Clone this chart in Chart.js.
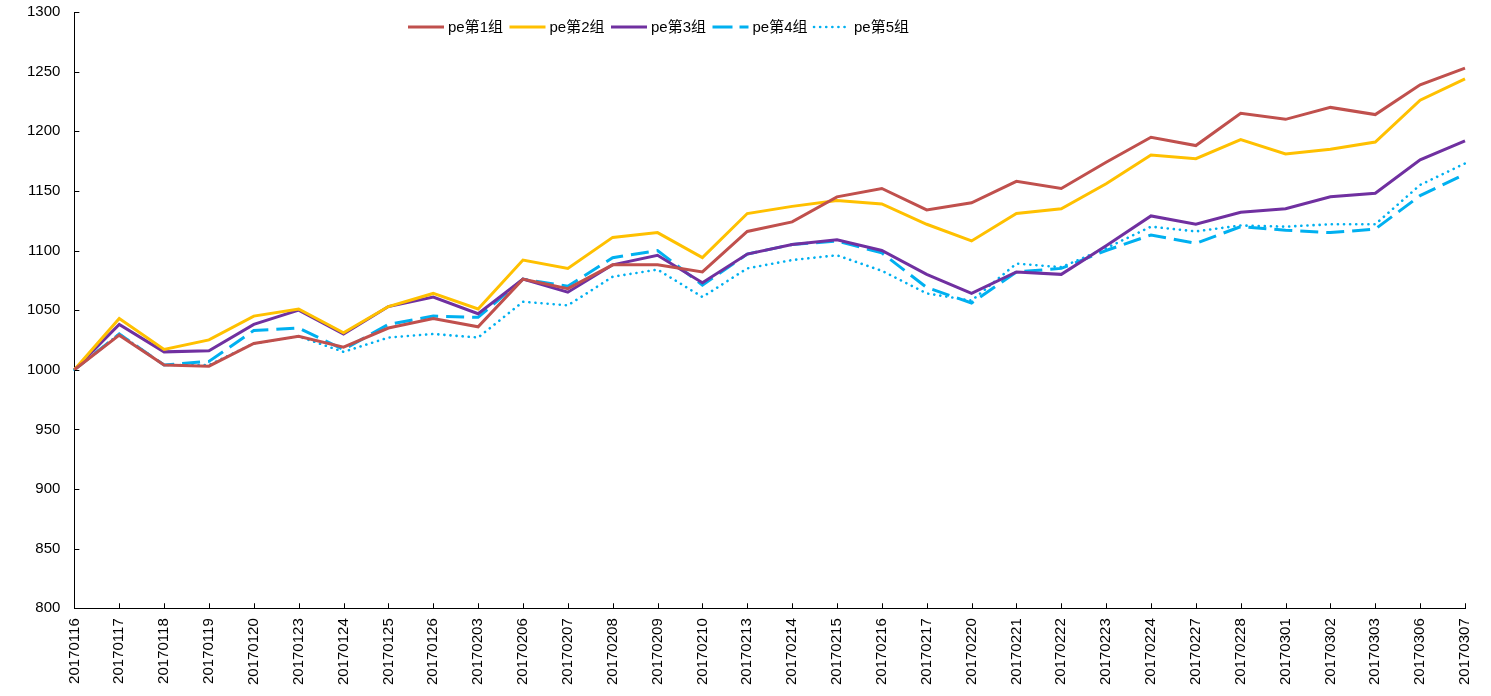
<!DOCTYPE html>
<html>
<head>
<meta charset="utf-8">
<script src="https://cdn.jsdelivr.net/npm/chart.js@4/dist/chart.umd.min.js"></script>
<style>
  html, body { margin: 0; padding: 0; background: #fff; }
  #wrap { width: 1491px; height: 696px; position: relative; }
</style>
</head>
<body>
<div id="wrap"><canvas id="grafico"></canvas></div>
<script>
const fechas = [
  "20170116", "20170117", "20170118", "20170119", "20170120", "20170123", "20170124", "20170125",
  "20170126", "20170203", "20170206", "20170207", "20170208", "20170209", "20170210", "20170213",
  "20170214", "20170215", "20170216", "20170217", "20170220", "20170221", "20170222", "20170223",
  "20170224", "20170227", "20170228", "20170301", "20170302", "20170303", "20170306", "20170307"
];

const grupo1 = [1000, 1029, 1004, 1003, 1022, 1028, 1019, 1035, 1043, 1036, 1076, 1068, 1088, 1088, 1082, 1116,
                1124, 1145, 1152, 1134, 1140, 1158, 1152, 1174, 1195, 1188, 1215, 1210, 1220, 1214, 1239, 1253];
const grupo2 = [1000, 1043, 1017, 1025, 1045, 1051, 1031, 1053, 1064, 1051, 1092, 1085, 1111, 1115, 1094, 1131,
                1137, 1142, 1139, 1122, 1108, 1131, 1135, 1156, 1180, 1177, 1193, 1181, 1185, 1191, 1226, 1244];
const grupo3 = [1000, 1038, 1015, 1016, 1038, 1050, 1030, 1053, 1061, 1047, 1076, 1065, 1088, 1096, 1073, 1097,
                1105, 1109, 1100, 1080, 1064, 1082, 1080, 1104, 1129, 1122, 1132, 1135, 1145, 1148, 1176, 1192];
const grupo4 = [1000, 1030, 1004, 1007, 1033, 1035, 1017, 1038, 1045, 1044, 1076, 1070, 1094, 1100, 1071, 1097,
                1105, 1108, 1098, 1069, 1056, 1082, 1085, 1100, 1113, 1106, 1120, 1117, 1115, 1118, 1146, 1164];
const grupo5 = [1000, 1030, 1004, 1004, 1022, 1028, 1015, 1027, 1030, 1027, 1057, 1054, 1078, 1084, 1061, 1085,
                1092, 1096, 1083, 1064, 1058, 1089, 1086, 1102, 1120, 1116, 1121, 1120, 1122, 1122, 1155, 1173];

const etiquetas = ["pe第1组", "pe第2组", "pe第3组", "pe第4组", "pe第5组"];
const colores = ["#C0504D", "#FFC000", "#7030A0", "#00B0F0", "#00B0F0"];

const fuente = "'Liberation Sans', 'Noto Sans CJK SC', sans-serif";

// leyenda dibujada a mano dentro del area del grafico
const leyendaPlugin = {
  id: "leyenda",
  afterDraw(chart) {
    const ctx = chart.ctx;
    let x = 408;
    const y = 27;
    ctx.save();
    ctx.font = "15px " + fuente;
    ctx.textBaseline = "middle";
    chart.data.datasets.forEach(ds => {
      ctx.strokeStyle = ds.borderColor;
      ctx.lineWidth = ds.borderWidth;
      ctx.lineCap = ds.borderCapStyle || "butt";
      ctx.setLineDash(ds.leyendaDash || []);
      ctx.beginPath();
      ctx.moveTo(x, y);
      ctx.lineTo(x + 36, y);
      ctx.stroke();
      ctx.setLineDash([]);
      ctx.fillStyle = "#000";
      ctx.fillText(ds.label, x + 40, y + 1);
      x += 101.5;
    });
    ctx.restore();
  }
};

// marcas de los ejes hacia dentro
const marcasPlugin = {
  id: "marcas",
  afterDatasetsDraw(chart) {
    const ctx = chart.ctx;
    const xs = chart.scales.x;
    const ys = chart.scales.y;
    const area = chart.chartArea;
    ctx.save();
    ctx.strokeStyle = "#000";
    ctx.lineWidth = 1;
    ctx.beginPath();
    xs.ticks.forEach((t, i) => {
      const px = Math.round(xs.getPixelForTick(i)) + 0.5;
      ctx.moveTo(px, area.bottom);
      ctx.lineTo(px, area.bottom - 5);
    });
    ys.ticks.forEach((t, i) => {
      const py = Math.round(ys.getPixelForTick(i)) + 0.5;
      ctx.moveTo(area.left, py);
      ctx.lineTo(area.left + 5, py);
    });
    ctx.stroke();
    ctx.restore();
  }
};

const series = [grupo1, grupo2, grupo3, grupo4, grupo5];

const datasets = series.map((d, i) => ({
  label: etiquetas[i],
  data: d,
  borderColor: colores[i],
  backgroundColor: colores[i],
  borderWidth: 3,
  pointRadius: 0,
  tension: 0,
  fill: false
}));
datasets[3].borderDash = [18, 8];
datasets[3].leyendaDash = [20, 7];
datasets[4].borderDash = [0.1, 6];
datasets[4].leyendaDash = [0.1, 6];
datasets[4].borderCapStyle = "round";
datasets[4].borderWidth = 2.6;

// las marcas de Chart.js quedan invisibles, solo dan el hueco hasta el texto
const gridInvisible = (largo) => ({
  display: true,
  drawOnChartArea: false,
  drawTicks: true,
  tickLength: largo,
  color: "rgba(0,0,0,0)"
});

new Chart(document.getElementById("grafico").getContext("2d"), {
  type: "line",
  data: { labels: fechas, datasets: datasets },
  plugins: [leyendaPlugin, marcasPlugin],
  options: {
    responsive: true,
    maintainAspectRatio: false,
    animation: false,
    layout: { padding: { left: 27, right: 26, top: 12, bottom: 11 } },
    plugins: {
      legend: { display: false },
      tooltip: { enabled: false }
    },
    scales: {
      x: {
        type: "category",
        offset: false,
        grid: gridInvisible(10),
        border: { display: true, color: "#000", width: 1 },
        ticks: {
          color: "#000",
          font: { family: fuente, size: 15 },
          minRotation: 90,
          maxRotation: 90,
          autoSkip: false,
          padding: 0
        }
      },
      y: {
        min: 800,
        max: 1300,
        grid: gridInvisible(14),
        border: { display: true, color: "#000", width: 1 },
        ticks: {
          stepSize: 50,
          color: "#000",
          font: { family: fuente, size: 15 },
          padding: 0,
          callback: v => String(v)
        }
      }
    }
  }
});
</script>
</body>
</html>
